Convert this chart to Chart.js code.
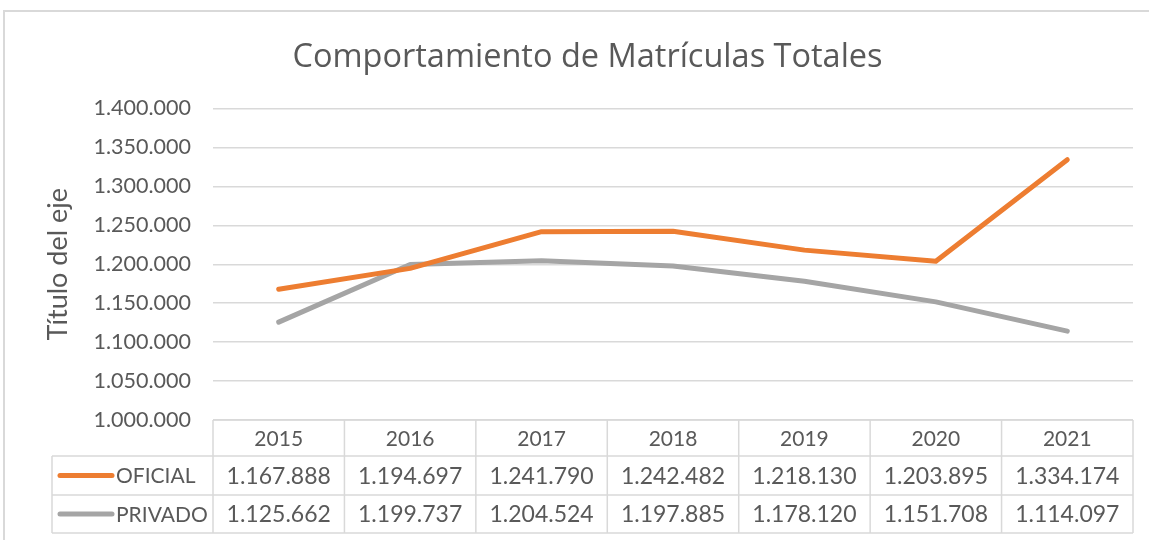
<!DOCTYPE html>
<html lang="es">
<head>
<meta charset="utf-8">
<title>Comportamiento de Matrículas Totales</title>
<script src="https://cdn.jsdelivr.net/npm/chart.js@4.4.1/dist/chart.umd.min.js"></script>
<style>
  html, body { margin: 0; padding: 0; background: #fff; overflow: hidden; }
  #marco {
    position: absolute; left: 3px; top: 10px;
    width: 1200px; height: 600px;
    border-left: 2px solid #d9d9d9; border-top: 2px solid #d9d9d9;
  }
  #grafico { position: absolute; left: 0; top: 0; }
</style>
</head>
<body>
<div id="marco"></div>
<canvas id="grafico" width="1149" height="540"></canvas>
<script>
// Datos del gráfico
const anios = ['2015', '2016', '2017', '2018', '2019', '2020', '2021'];
const oficial = [1167888, 1194697, 1241790, 1242482, 1218130, 1203895, 1334174];
const privado = [1125662, 1199737, 1204524, 1197885, 1178120, 1151708, 1114097];
const series = ['OFICIAL', 'PRIVADO'];

const TEXTO = '#595959';
const FUENTE = "Lato, 'Open Sans', sans-serif";
const COLORES = { oficial: '#ED7D31', privado: '#A5A5A5', rejilla: '#d9d9d9' };

const fmt = v => v.toLocaleString('de-DE');

// Tabla de datos debajo del eje X (estilo Excel)
const tablaDatos = {
  id: 'tablaDatos',
  afterDraw(chart) {
    const { ctx, chartArea } = chart;
    const x = chart.scales.x;
    const alto = [36, 39, 38];
    const top = chartArea.bottom;
    const filas = [top, top + alto[0], top + alto[0] + alto[1], top + alto[0] + alto[1] + alto[2]];
    const izqLeyenda = 52;
    const ancho = chartArea.width / anios.length;

    ctx.save();
    ctx.strokeStyle = COLORES.rejilla;
    ctx.lineWidth = 1.5;
    ctx.beginPath();
    // lineas horizontales
    ctx.moveTo(chartArea.left, filas[0]); ctx.lineTo(chartArea.right, filas[0]);
    for (let r = 1; r < 4; r++) {
      ctx.moveTo(izqLeyenda, filas[r]); ctx.lineTo(chartArea.right, filas[r]);
    }
    // lineas verticales
    ctx.moveTo(izqLeyenda, filas[1]); ctx.lineTo(izqLeyenda, filas[3]);
    for (let i = 0; i <= anios.length; i++) {
      const px = i < anios.length ? x.getPixelForValue(i) - ancho / 2 : chartArea.right;
      ctx.moveTo(px, filas[0]); ctx.lineTo(px, filas[3]);
    }
    ctx.stroke();

    ctx.fillStyle = TEXTO;
    ctx.textAlign = 'center';
    ctx.textBaseline = 'middle';
    const valores = [oficial, privado];
    anios.forEach((a, i) => {
      const cx = x.getPixelForValue(i);
      ctx.font = '21px ' + FUENTE;
      ctx.fillText(a, cx, (filas[0] + filas[1]) / 2 + 1);
      ctx.font = '23px ' + FUENTE;
      valores.forEach((serie, s) => {
        ctx.fillText(fmt(serie[i]), cx, (filas[s + 1] + filas[s + 2]) / 2 + 1);
      });
    });

    // claves de leyenda
    const colores = [COLORES.oficial, COLORES.privado];
    ctx.font = '21px ' + FUENTE;
    series.forEach((nombre, s) => {
      const cy = (filas[s + 1] + filas[s + 2]) / 2;
      ctx.strokeStyle = colores[s];
      ctx.lineWidth = 5;
      ctx.lineCap = 'round';
      ctx.beginPath();
      ctx.moveTo(60, cy); ctx.lineTo(112, cy);
      ctx.stroke();
      ctx.textAlign = 'left';
      ctx.fillText(nombre, 116, cy + 1);
    });
    ctx.restore();
  }
};

new Chart(document.getElementById('grafico'), {
  type: 'line',
  data: {
    labels: anios,
    datasets: [
      {
        label: series[0],
        data: oficial,
        borderColor: COLORES.oficial,
        backgroundColor: COLORES.oficial,
        borderWidth: 5,
        borderCapStyle: 'round',
        borderJoinStyle: 'round',
        pointRadius: 0,
        tension: 0,
      },
      {
        label: series[1],
        data: privado,
        borderColor: COLORES.privado,
        backgroundColor: COLORES.privado,
        borderWidth: 5,
        borderCapStyle: 'round',
        borderJoinStyle: 'round',
        pointRadius: 0,
        tension: 0,
      },
    ],
  },
  options: {
    responsive: false,
    animation: false,
    layout: { padding: { top: 38, left: 42, right: 16, bottom: 120 } },
    plugins: {
      legend: { display: false },
      tooltip: { enabled: false },
      title: {
        display: true,
        text: 'Comportamiento de Matrículas Totales',
        color: TEXTO,
        font: { family: "'Open Sans', Lato, sans-serif", size: 32.5, weight: 'normal', lineHeight: 1.2 },
        padding: { top: 0, bottom: 31.5 },
      },
    },
    scales: {
      x: {
        display: false,
        offset: true,
      },
      y: {
        min: 1000000,
        max: 1400000,
        afterFit: scale => { scale.width = 171; },
        border: { display: false },
        grid: { color: COLORES.rejilla, lineWidth: 1.5, drawTicks: false },
        ticks: {
          stepSize: 50000,
          padding: 22,
          color: TEXTO,
          font: { family: FUENTE, size: 21.5 },
          callback: v => fmt(v),
        },
        title: {
          display: true,
          text: 'Título del eje',
          color: TEXTO,
          font: { family: FUENTE, size: 27, lineHeight: 1.2 },
          padding: 0,
        },
      },
    },
  },
  plugins: [tablaDatos],
});
</script>
</body>
</html>
